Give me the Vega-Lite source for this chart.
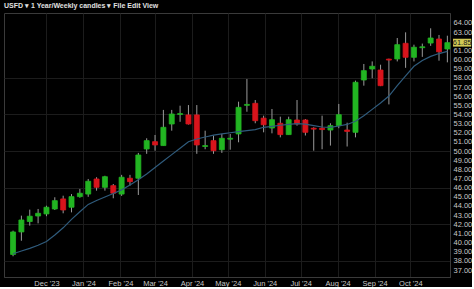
{
  "$schema": "https://vega.github.io/schema/vega-lite/v6.json",
  "width": 446,
  "height": 264,
  "padding": {"left": 4, "top": 2, "right": 0, "bottom": 0},
  "background": "#000000",
  "title": {"text": "USFD ▾  1 Year/Weekly candles ▾  File  Edit  View", "anchor": "start", "fontSize": 7, "font": "Liberation Sans", "fontWeight": "bold", "color": "#e0e0e0", "offset": 4},
  "config": {
    "view": {"stroke": "#3a3a3a"},
    "axis": {"labelOverlap": false}
  },
  "resolve": {"axis": {"y": "independent"}},
  "data": {"values": [
    {"date": "2023-11-03", "open": 38.7, "high": 41.3, "low": 38.5, "close": 41.16, "ma": 38.78},
    {"date": "2023-11-10", "open": 41.16, "high": 42.94, "low": 40.2, "close": 42.47, "ma": 39.08},
    {"date": "2023-11-17", "open": 42.3, "high": 43.6, "low": 41.85, "close": 42.88, "ma": 39.36},
    {"date": "2023-11-24", "open": 42.9, "high": 43.67, "low": 42.1, "close": 43.2, "ma": 39.7},
    {"date": "2023-12-01", "open": 43.13, "high": 44.03, "low": 42.88, "close": 43.86, "ma": 40.11},
    {"date": "2023-12-08", "open": 43.67, "high": 44.95, "low": 43.56, "close": 44.58, "ma": 40.83},
    {"date": "2023-12-15", "open": 44.77, "high": 45.12, "low": 43.2, "close": 43.56, "ma": 41.61},
    {"date": "2023-12-22", "open": 43.86, "high": 45.3, "low": 43.3, "close": 45.02, "ma": 42.53},
    {"date": "2023-12-29", "open": 45.02, "high": 45.86, "low": 44.9, "close": 45.39, "ma": 43.37},
    {"date": "2024-01-05", "open": 45.3, "high": 46.95, "low": 45.0, "close": 46.7, "ma": 44.17},
    {"date": "2024-01-12", "open": 46.95, "high": 47.14, "low": 45.67, "close": 46.04, "ma": 44.59},
    {"date": "2024-01-19", "open": 46.04, "high": 47.3, "low": 45.67, "close": 47.2, "ma": 44.98},
    {"date": "2024-01-26", "open": 46.22, "high": 46.4, "low": 44.84, "close": 45.39, "ma": 45.37},
    {"date": "2024-02-02", "open": 45.3, "high": 47.4, "low": 45.1, "close": 47.14, "ma": 45.76},
    {"date": "2024-02-09", "open": 47.03, "high": 47.4, "low": 46.22, "close": 46.66, "ma": 46.3},
    {"date": "2024-02-16", "open": 47.03, "high": 49.8, "low": 45.2, "close": 49.57, "ma": 46.87},
    {"date": "2024-02-23", "open": 50.23, "high": 51.4, "low": 49.7, "close": 51.14, "ma": 47.5},
    {"date": "2024-03-01", "open": 51.03, "high": 51.76, "low": 50.04, "close": 50.67, "ma": 48.21},
    {"date": "2024-03-08", "open": 50.6, "high": 54.5, "low": 50.6, "close": 52.6, "ma": 48.92},
    {"date": "2024-03-15", "open": 52.96, "high": 54.5, "low": 52.23, "close": 54.05, "ma": 49.61},
    {"date": "2024-03-22", "open": 54.0, "high": 54.96, "low": 53.2, "close": 54.1, "ma": 50.31},
    {"date": "2024-03-29", "open": 53.95, "high": 55.03, "low": 52.9, "close": 52.96, "ma": 51.02},
    {"date": "2024-04-05", "open": 53.95, "high": 55.03, "low": 49.7, "close": 50.67, "ma": 51.32},
    {"date": "2024-04-12", "open": 50.5, "high": 52.23, "low": 50.2, "close": 50.6, "ma": 51.54},
    {"date": "2024-04-19", "open": 51.14, "high": 51.7, "low": 49.7, "close": 50.04, "ma": 51.74},
    {"date": "2024-04-26", "open": 50.15, "high": 51.87, "low": 49.8, "close": 51.4, "ma": 51.88},
    {"date": "2024-05-03", "open": 51.3, "high": 51.87, "low": 50.15, "close": 51.4, "ma": 52.0},
    {"date": "2024-05-10", "open": 51.87, "high": 55.4, "low": 50.96, "close": 54.78, "ma": 52.13},
    {"date": "2024-05-17", "open": 55.0, "high": 57.88, "low": 54.3, "close": 55.1, "ma": 52.24},
    {"date": "2024-05-24", "open": 55.22, "high": 55.58, "low": 53.04, "close": 53.32, "ma": 52.35},
    {"date": "2024-05-31", "open": 53.6, "high": 53.87, "low": 52.05, "close": 52.88, "ma": 52.6},
    {"date": "2024-06-07", "open": 52.52, "high": 54.6, "low": 51.94, "close": 53.43, "ma": 52.71},
    {"date": "2024-06-14", "open": 53.04, "high": 53.76, "low": 51.5, "close": 51.8, "ma": 52.82},
    {"date": "2024-06-21", "open": 51.8, "high": 53.76, "low": 51.8, "close": 53.43, "ma": 52.91},
    {"date": "2024-06-28", "open": 53.4, "high": 55.58, "low": 52.78, "close": 52.96, "ma": 53.0},
    {"date": "2024-07-05", "open": 53.4, "high": 53.5, "low": 51.7, "close": 52.05, "ma": 52.94},
    {"date": "2024-07-12", "open": 52.5, "high": 52.6, "low": 50.04, "close": 52.4, "ma": 52.78},
    {"date": "2024-07-19", "open": 52.5, "high": 53.87, "low": 50.2, "close": 52.35, "ma": 52.63},
    {"date": "2024-07-26", "open": 52.3, "high": 53.04, "low": 50.6, "close": 52.78, "ma": 52.6},
    {"date": "2024-08-02", "open": 52.78, "high": 55.15, "low": 52.5, "close": 53.98, "ma": 52.74},
    {"date": "2024-08-09", "open": 52.3, "high": 53.1, "low": 50.5, "close": 52.15, "ma": 52.91},
    {"date": "2024-08-16", "open": 52.05, "high": 57.7, "low": 51.5, "close": 57.52, "ma": 53.26},
    {"date": "2024-08-23", "open": 57.77, "high": 59.52, "low": 57.15, "close": 58.79, "ma": 53.87},
    {"date": "2024-08-30", "open": 58.97, "high": 59.8, "low": 57.96, "close": 59.27, "ma": 54.56},
    {"date": "2024-09-06", "open": 58.86, "high": 59.44, "low": 57.1, "close": 57.15, "ma": 55.25},
    {"date": "2024-09-13", "open": 60.05, "high": 60.1, "low": 55.1, "close": 59.95, "ma": 56.02},
    {"date": "2024-09-20", "open": 60.07, "high": 62.36, "low": 59.8, "close": 61.63, "ma": 57.16},
    {"date": "2024-09-27", "open": 61.78, "high": 62.98, "low": 59.1, "close": 60.25, "ma": 58.22},
    {"date": "2024-10-04", "open": 60.25, "high": 61.63, "low": 59.8, "close": 61.35, "ma": 59.27},
    {"date": "2024-10-11", "open": 61.3, "high": 61.75, "low": 60.3, "close": 61.4, "ma": 59.9},
    {"date": "2024-10-18", "open": 61.81, "high": 63.42, "low": 61.5, "close": 62.36, "ma": 60.35},
    {"date": "2024-10-25", "open": 62.25, "high": 62.69, "low": 59.88, "close": 60.85, "ma": 60.66},
    {"date": "2024-11-01", "open": 61.16, "high": 62.61, "low": 59.7, "close": 61.85, "ma": 60.89}
  ]},
  "encoding": {
    "x": {
      "field": "date", "type": "temporal", "title": null,
      "scale": {"type": "utc", "padding": 0, "domain": [
        {"year": 2023, "month": 10, "date": 26, "hours": 10, "utc": true},
        {"year": 2024, "month": 11, "date": 3, "hours": 5, "utc": true}
      ]},
      "axis": {
        "values": [
          {"year": 2023, "month": 12, "date": 1, "utc": true},
          {"year": 2024, "month": 1, "date": 1, "utc": true},
          {"year": 2024, "month": 2, "date": 1, "utc": true},
          {"year": 2024, "month": 3, "date": 1, "utc": true},
          {"year": 2024, "month": 4, "date": 1, "utc": true},
          {"year": 2024, "month": 5, "date": 1, "utc": true},
          {"year": 2024, "month": 6, "date": 1, "utc": true},
          {"year": 2024, "month": 7, "date": 1, "utc": true},
          {"year": 2024, "month": 8, "date": 1, "utc": true},
          {"year": 2024, "month": 9, "date": 1, "utc": true},
          {"year": 2024, "month": 10, "date": 1, "utc": true}
        ],
        "format": "%b '%y", "labelFont": "Liberation Sans", "labelFontSize": 7.5, "labelColor": "#c8c8c8",
        "ticks": false, "labelPadding": 2, "grid": true, "gridColor": "#1c1c1c", "domainColor": "#3a3a3a"
      }
    }
  },
  "layer": [
    {
      "mark": {"type": "rule", "color": "#9a9a9a", "strokeWidth": 1},
      "encoding": {
        "y": {
          "field": "low", "type": "quantitative", "title": null,
          "scale": {"domain": [36.235, 65.093], "nice": false, "zero": false, "padding": 0},
          "axis": {
            "orient": "right",
            "values": [37, 38, 39, 40, 41, 42, 43, 44, 45, 46, 47, 48, 49, 50, 51, 52, 53, 54, 55, 56, 57, 58, 59, 60, 61, 63, 64],
            "format": ".2f", "labelFont": "Liberation Sans", "labelFontSize": 7.5, "labelColor": "#c8c8c8",
            "labelOverlap": false, "labelBound": false, "labelSeparation": 0,
            "ticks": false, "labelPadding": 3, "domainColor": "#3a3a3a",
            "grid": true, "gridColor": "#1c1c1c",
            "gridOpacity": {"condition": {"test": "datum.value % 4 == 2", "value": 1}, "value": 0}
          }
        },
        "y2": {"field": "high"}
      }
    },
    {
      "mark": {"type": "bar", "size": 5, "strokeWidth": 0.8},
      "encoding": {
        "y": {"field": "open", "type": "quantitative", "axis": null},
        "y2": {"field": "close"},
        "color": {"condition": {"test": "datum.close >= datum.open", "value": "#22b522"}, "value": "#d8141c"},
        "stroke": {"condition": {"test": "datum.close >= datum.open", "value": "#22b522"}, "value": "#d8141c"}
      }
    },
    {
      "mark": {"type": "line", "color": "#2f5b7c", "strokeWidth": 1.2},
      "encoding": {"y": {"field": "ma", "type": "quantitative", "axis": null}}
    },
    {
      "transform": [{"filter": "datum.close == 61.85"}],
      "mark": {"type": "rect", "color": "#d2ca55", "clip": false},
      "encoding": {
        "x": {"datum": {"year": 2024, "month": 11, "date": 5, "hours": 18, "utc": true}, "type": "temporal"},
        "x2": {"datum": {"year": 2024, "month": 11, "date": 21, "utc": true}},
        "y": {"datum": 62.28, "type": "quantitative", "axis": null},
        "y2": {"datum": 61.42}
      }
    },
    {
      "transform": [{"filter": "datum.close == 61.85"}],
      "mark": {"type": "text", "font": "Liberation Sans", "fontSize": 7.5, "color": "#1a1a1a", "align": "center", "baseline": "middle", "clip": false},
      "encoding": {
        "x": {"datum": {"year": 2024, "month": 11, "date": 13, "hours": 9, "utc": true}, "type": "temporal"},
        "y": {"field": "close", "type": "quantitative", "axis": null},
        "text": {"field": "close", "type": "quantitative", "format": ".2f"}
      }
    }
  ]
}
